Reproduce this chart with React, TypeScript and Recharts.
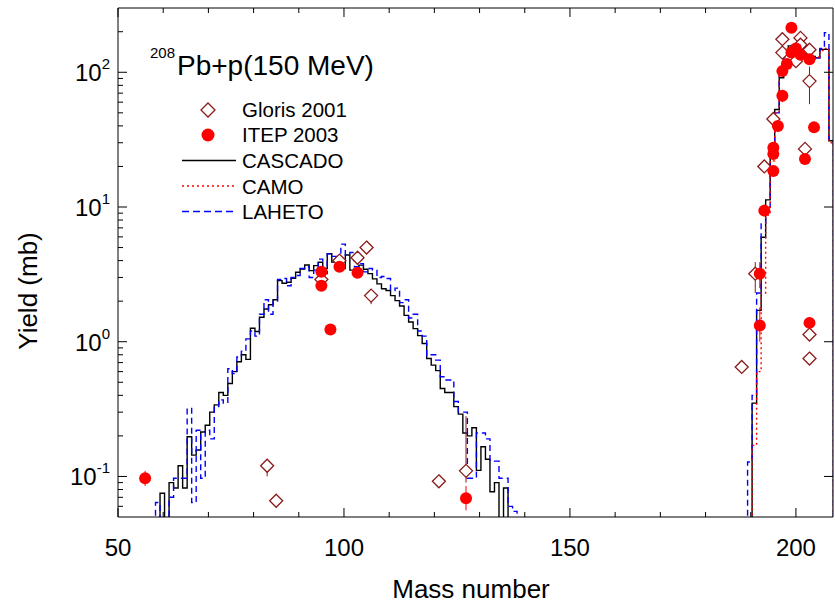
import React from "react";
import { ComposedChart, Line, Scatter, ErrorBar, XAxis, YAxis } from "recharts";

const FONT = "'Liberation Sans', Arial, Helvetica, sans-serif";

// histogram blocks: first mass number of each block, one value per mass number (0 = below axis)
const lightStart = 57;
const heavyStart = 188;

const cascadoLight = [
  0, 0, 0.075, 0, 0.09, 0.082, 0.12, 0.082, 0.197, 0.144, 0.157, 0.214, 0.24, 0.3, 0.34,
  0.42, 0.4, 0.49, 0.6, 0.71, 0.8, 0.74, 1.26, 1.19, 1.52, 1.75, 1.88, 2.05, 2.84, 2.72,
  2.76, 2.96, 3.28, 3.47, 3.71, 3.37, 3.67, 3.89, 3.5, 4.5, 3.9, 3.9, 3.5, 4.4, 3.4, 3.5,
  3.7, 3.45, 3.2, 2.93, 2.69, 2.47, 2.4, 2.2, 2.02, 1.84, 1.57, 1.4, 1.25, 1.11, 0.97,
  0.75, 0.67, 0.61, 0.45, 0.42, 0.42, 0.33, 0.29, 0.21, 0.2, 0.23, 0.111, 0.166, 0.134,
  0.077, 0.09, 0, 0.082, 0, 0, 0,
];

const lahetoLight = [
  0, 0.064, 0, 0, 0.07, 0.097, 0.097, 0.097, 0.32, 0.064, 0.22, 0.097, 0.22, 0.19, 0.33,
  0.37, 0.35, 0.63, 0.58, 0.77, 0.85, 1.05, 1.2, 1.1, 1.6, 2.05, 1.6, 2.0, 2.9, 2.95, 2.6,
  3.0, 3.1, 3.5, 3.6, 3.0, 3.4, 4.1, 3.2, 4.5, 4.3, 4.0, 5.3, 4.4, 4.6, 3.6, 3.8, 3.3,
  3.5, 3.4, 3.0, 3.05, 2.95, 2.4, 2.5, 1.95, 2.05, 1.5, 1.6, 1.2, 1.1, 0.79, 0.8, 0.73,
  0.55, 0.52, 0.52, 0.36, 0.3, 0.3, 0.097, 0.097, 0.21, 0.21, 0.19, 0.13, 0.13, 0.097,
  0.097, 0.06, 0.055, 0,
];

const cascadoHeavy = [
  0, 0, 0.35, 1.71, 5.97, 11.3, 23, 53, 91, 136, 157, 148, 145, 150, 136, 131, 128, 148,
  148, 31,
];
const camoHeavy = [
  0, 0, 0.17, 0.6, 2.3, 8.7, 22, 50, 100, 130, 150, 155, 140, 160, 140, 125, 130, 145, 150,
  30,
];
const lahetoHeavy = [
  0, 0.128, 0.4, 2.3, 7.5, 10, 25, 50, 95, 140, 150, 140, 155, 160, 130, 128, 128, 150, 197,
  32,
];

// Gloris 2001
const glorisA = [83, 85, 95, 99, 103, 105, 106, 121, 127, 188, 191, 193, 195, 197, 197, 200, 201, 201, 202, 203, 203, 203, 203];
const glorisY = [0.12, 0.066, 2.9, 4.0, 4.2, 5.0, 2.2, 0.092, 0.11, 0.65, 3.2, 20, 45, 176, 140, 121, 180, 160, 27, 147, 86, 1.13, 0.75];
const glorisLo = [0.1, 0.06, 2.75, 3.8, 4.0, 4.7, 1.9, 0.085, 0.09, 0.6, 2.3, 18, 42, 165, 130, 112, 170, 150, 25, 138, 58, 1.05, 0.7];
const glorisHi = [0.135, 0.072, 3.05, 4.2, 4.4, 5.3, 2.45, 0.1, 0.28, 0.7, 3.9, 22, 48, 190, 150, 130, 190, 170, 29, 156, 110, 1.2, 0.8];

// ITEP 2003
const itepA = [56, 95, 95, 97, 99, 103, 127, 192, 192, 193, 195, 195, 195, 196, 197, 197, 198, 199, 199, 200, 201, 202, 203, 203, 204];
const itepY = [0.097, 3.3, 2.6, 1.23, 3.6, 3.25, 0.069, 3.2, 1.32, 9.4, 18.5, 24.7, 27.5, 40, 67, 102, 115, 214, 140, 150, 135, 22.7, 125, 1.38, 39];
const itepLo = [0.085, 3.1, 2.45, 1.15, 3.4, 3.05, 0.056, 2.5, 1.0, 8.6, 17, 23, 26, 37, 60, 95, 108, 200, 130, 140, 125, 21, 117, 1.28, 36];
const itepHi = [0.11, 3.5, 2.75, 1.31, 3.8, 3.45, 0.085, 3.9, 1.8, 10.3, 20, 26.5, 29, 43, 74, 110, 122, 228, 150, 160, 145, 24.5, 133, 1.48, 42];

const xTicks = [50, 60, 70, 80, 90, 100, 110, 120, 130, 140, 150, 160, 170, 180, 190, 200];
const yMajor = [0.1, 1, 10, 100];
const yTicks: number[] = [0.06, 0.07, 0.08, 0.09];
[0.1, 1, 10, 100].forEach((d) => {
  for (let k = 1; k <= 9; k++) if (d * k < 300) yTicks.push(d * k);
});

const EDGE = 0.3;
const FLOOR = 0.01;

function steps(start: number, values: number[]) {
  const pts = values.map((v, i) => ({ x: start + i + EDGE, y: Math.max(v, FLOOR) }));
  pts.push({ x: start + values.length + EDGE, y: FLOOR });
  return pts;
}

function points(a: number[], y: number[], lo: number[], hi: number[]) {
  return a.map((x, i) => ({ x, y: y[i], err: [y[i] - lo[i], hi[i] - y[i]] }));
}

const isMajor = (v: number) => Math.abs(Math.log10(v) - Math.round(Math.log10(v))) < 1e-6;

const bottomTick = (p: any) => {
  const v = p.payload.value;
  const major = v % 50 === 0;
  return (
    <g>
      <line x1={p.x} x2={p.x} y1={p.y} y2={p.y - (major ? 9 : 5)} stroke="#000" />
      {major && (
        <text x={p.x} y={p.y + 39} textAnchor="middle" fontSize={24} fontFamily={FONT} fill="#000">
          {v}
        </text>
      )}
    </g>
  );
};

const topTick = (p: any) => {
  const major = p.payload.value % 50 === 0;
  return <line x1={p.x} x2={p.x} y1={p.y} y2={p.y + (major ? 9 : 5)} stroke="#000" />;
};

const leftTick = (p: any) => {
  const v = p.payload.value;
  const major = isMajor(v);
  const exp = Math.round(Math.log10(v));
  return (
    <g>
      <line x1={p.x} x2={p.x + (major ? 9 : 5)} y1={p.y} y2={p.y} stroke="#000" />
      {major && (
        <text x={p.x - 8} y={p.y + 9} textAnchor="end" fontSize={24} fontFamily={FONT} fill="#000">
          10
          <tspan dy={-12} fontSize={15}>
            {exp}
          </tspan>
        </text>
      )}
    </g>
  );
};

const rightTick = (p: any) => <line x1={p.x} x2={p.x - 9} y1={p.y} y2={p.y} stroke="#000" />;

const Diamond = (p: any) => {
  const { cx, cy } = p;
  const r = 6.5;
  return (
    <path
      d={`M${cx},${cy - r}L${cx + r},${cy}L${cx},${cy + r}L${cx - r},${cy}Z`}
      fill="#fff"
      stroke="#8B1A1A"
      strokeWidth={1.3}
    />
  );
};

const Dot = (p: any) => <circle cx={p.cx} cy={p.cy} r={6} fill="#FF0000" />;

export default function App() {
  return (
    <div style={{ position: "absolute", left: 0, top: 0, width: 835, height: 607, background: "#fff" }}>
      <ComposedChart width={835} height={607} margin={{ top: 7, right: 1, bottom: 89, left: 117 }}>
        <XAxis
          xAxisId="b"
          dataKey="x"
          type="number"
          domain={[50, 208.2]}
          allowDataOverflow
          ticks={xTicks}
          interval={0}
          height={1}
          tickSize={0}
          tickMargin={0}
          tickLine={false}
          tick={bottomTick}
          axisLine={{ stroke: "#000" }}
        />
        <XAxis
          xAxisId="t"
          orientation="top"
          dataKey="x"
          type="number"
          domain={[50, 208.2]}
          allowDataOverflow
          ticks={xTicks}
          interval={0}
          height={1}
          tickSize={0}
          tickMargin={0}
          tickLine={false}
          tick={topTick}
          axisLine={{ stroke: "#000" }}
        />
        <YAxis
          yAxisId="l"
          dataKey="y"
          type="number"
          scale="log"
          domain={[0.05, 300]}
          allowDataOverflow
          ticks={yTicks}
          interval={0}
          width={1}
          tickSize={0}
          tickMargin={0}
          tickLine={false}
          tick={leftTick}
          axisLine={{ stroke: "#000" }}
        />
        <YAxis
          yAxisId="r"
          orientation="right"
          dataKey="y"
          type="number"
          scale="log"
          domain={[0.05, 300]}
          allowDataOverflow
          ticks={yMajor}
          interval={0}
          width={1}
          tickSize={0}
          tickMargin={0}
          tickLine={false}
          tick={rightTick}
          axisLine={{ stroke: "#000" }}
        />

        <Line xAxisId="b" yAxisId="l" data={steps(lightStart, cascadoLight)} dataKey="y" type="stepAfter"
          stroke="#000" strokeWidth={1.4} dot={false} isAnimationActive={false} />
        <Line xAxisId="b" yAxisId="l" data={steps(heavyStart, cascadoHeavy)} dataKey="y" type="stepAfter"
          stroke="#000" strokeWidth={1.4} dot={false} isAnimationActive={false} />
        <Line xAxisId="b" yAxisId="l" data={steps(lightStart, lahetoLight)} dataKey="y" type="stepAfter"
          stroke="#0000FF" strokeWidth={1.4} strokeDasharray="6 4" dot={false} isAnimationActive={false} />
        <Line xAxisId="b" yAxisId="l" data={steps(heavyStart, lahetoHeavy)} dataKey="y" type="stepAfter"
          stroke="#0000FF" strokeWidth={1.4} strokeDasharray="6 4" dot={false} isAnimationActive={false} />
        <Line xAxisId="b" yAxisId="l" data={steps(heavyStart, camoHeavy)} dataKey="y" type="stepAfter"
          stroke="#FF0000" strokeWidth={1.4} strokeDasharray="2 3" dot={false} isAnimationActive={false} />

        <Scatter xAxisId="b" yAxisId="l" data={points(glorisA, glorisY, glorisLo, glorisHi)} dataKey="y"
          shape={Diamond} isAnimationActive={false}>
          <ErrorBar dataKey="err" direction="y" width={0} stroke="#8B1A1A" strokeWidth={1} />
        </Scatter>
        <Scatter xAxisId="b" yAxisId="l" data={points(itepA, itepY, itepLo, itepHi)} dataKey="y"
          shape={Dot} isAnimationActive={false}>
          <ErrorBar dataKey="err" direction="y" width={0} stroke="#FF0000" strokeWidth={1} />
        </Scatter>
      </ComposedChart>

      <svg width={835} height={607} style={{ position: "absolute", left: 0, top: 0, pointerEvents: "none" }}
        fontFamily={FONT}>
        <text x={150} y={58} fontSize={15}>208</text>
        <text x={177} y={75} fontSize={28}>Pb+p(150 MeV)</text>

        <path d="M208,103L215,110L208,117L201,110Z" fill="#fff" stroke="#8B1A1A" strokeWidth={1.3} />
        <circle cx={208} cy={135} r={6.5} fill="#FF0000" />
        <line x1={182} x2={236} y1={160.5} y2={160.5} stroke="#000" strokeWidth={1.4} />
        <line x1={182} x2={236} y1={186} y2={186} stroke="#FF0000" strokeWidth={1.4} strokeDasharray="2 3" />
        <line x1={182} x2={236} y1={211.5} y2={211.5} stroke="#0000FF" strokeWidth={1.4} strokeDasharray="7 4" />
        <text x={242} y={117} fontSize={20.5}>Gloris 2001</text>
        <text x={242} y={142} fontSize={20.5}>ITEP 2003</text>
        <text x={242} y={168} fontSize={20.5}>CASCADO</text>
        <text x={242} y={194} fontSize={20.5}>CAMO</text>
        <text x={242} y={219} fontSize={20.5}>LAHETO</text>

        <text x={471} y={598} fontSize={26} textAnchor="middle">Mass number</text>
        <text x={0} y={0} fontSize={26} textAnchor="middle" transform="translate(37,291) rotate(-90)">
          Yield (mb)
        </text>
      </svg>
    </div>
  );
}
